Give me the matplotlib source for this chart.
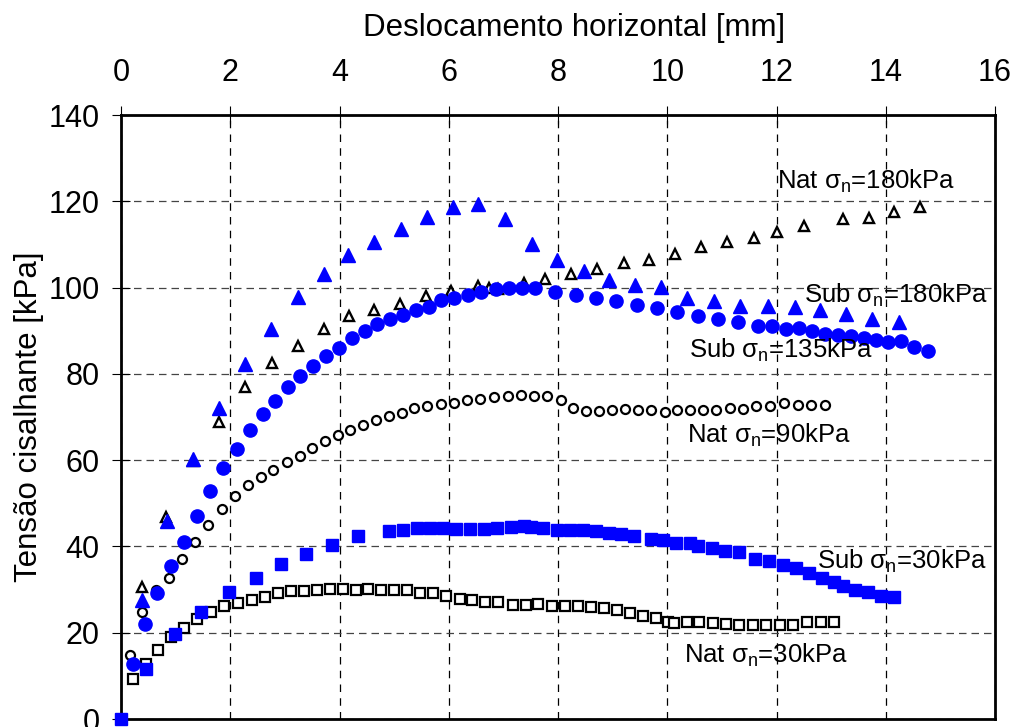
import matplotlib
matplotlib.use("Agg")
import matplotlib.pyplot as plt

plt.rcParams['font.family'] = ['Liberation Sans', 'DejaVu Sans']
plt.rcParams['mathtext.fontset'] = 'custom'
plt.rcParams['mathtext.rm'] = 'Liberation Sans'
plt.rcParams['mathtext.it'] = 'Liberation Sans'

# === DADOS ===
# Natural, sigma_n = 30 kPa (quadrados abertos)
nat30_x = [0.21, 0.45, 0.68, 0.91, 1.15, 1.39, 1.65, 1.89, 2.15, 2.39, 2.64, 2.88, 3.11, 3.35,
           3.58, 3.82, 4.06, 4.30, 4.53, 4.76, 5.00, 5.23, 5.48, 5.71, 5.95, 6.20, 6.42, 6.67,
           6.91, 7.17, 7.41, 7.64, 7.89, 8.12, 8.36, 8.60, 8.85, 9.08, 9.31, 9.55, 9.79, 10.01,
           10.13, 10.36, 10.59, 10.84, 11.08, 11.32, 11.57, 11.81, 12.07, 12.31, 12.56, 12.82, 13.06]
nat30_y = [9.2, 12.8, 16.1, 19.1, 21.2, 23.2, 24.9, 26.2, 27.0, 27.7, 28.3, 29.1, 29.7, 29.7,
           30.0, 30.2, 30.1, 30.0, 30.1, 30.0, 29.9, 29.9, 29.3, 29.3, 28.6, 27.8, 27.6, 27.2,
           27.2, 26.4, 26.4, 26.6, 26.2, 26.2, 26.2, 26.0, 25.8, 25.3, 24.5, 23.9, 23.3, 22.6,
           22.3, 22.6, 22.6, 22.3, 22.0, 21.9, 21.9, 21.8, 21.8, 21.9, 22.6, 22.6, 22.6]

# Natural, sigma_n = 90 kPa (círculos abertos)
nat90_x = [0.16, 0.39, 0.64, 0.87, 1.11, 1.36, 1.60, 1.84, 2.09, 2.32, 2.56, 2.79, 3.03, 3.27,
           3.50, 3.74, 3.97, 4.19, 4.43, 4.66, 4.91, 5.14, 5.37, 5.61, 5.86, 6.10, 6.34, 6.58,
           6.83, 7.08, 7.32, 7.56, 7.80, 8.05, 8.27, 8.52, 8.75, 8.99, 9.23, 9.46, 9.70, 9.95,
           10.18, 10.42, 10.66, 10.90, 11.14, 11.38, 11.63, 11.89, 12.14, 12.39, 12.63, 12.88]
nat90_y = [14.8, 24.9, 30.0, 32.8, 37.1, 41.1, 45.0, 48.7, 51.8, 54.2, 56.0, 57.7, 59.5, 61.0,
           62.9, 64.5, 65.8, 67.0, 68.2, 69.3, 70.3, 71.0, 72.0, 72.6, 73.0, 73.3, 73.9, 74.2,
           74.7, 74.9, 75.2, 74.9, 74.9, 73.9, 72.0, 71.4, 71.4, 71.6, 71.8, 71.6, 71.6, 71.2,
           71.6, 71.6, 71.6, 71.6, 72.0, 71.8, 72.6, 72.6, 73.2, 72.9, 72.9, 72.9]

# Natural, sigma_n = 180 kPa (triângulos abertos)
nat180_x = [0.38, 0.83, 1.31, 1.79, 2.27, 2.76, 3.24, 3.71, 4.18, 4.64, 5.11, 5.59, 6.04, 6.53,
            6.73, 6.90, 7.38, 7.77, 8.24, 8.72, 9.20, 9.67, 10.15, 10.62, 11.10, 11.58, 12.01,
            12.51, 13.22, 13.69, 14.16, 14.62]
nat180_y = [30.5, 46.9, 59.8, 68.9, 76.9, 82.5, 86.5, 90.4, 93.4, 94.8, 96.2, 98.1, 99.2, 100.4,
            100.0, 99.6, 101.1, 102.1, 103.2, 104.3, 105.6, 106.4, 107.9, 109.5, 110.6, 111.6,
            112.9, 114.3, 115.8, 116.2, 117.6, 118.6]

# Submerso, sigma_n = 30 kPa (quadrados cheios)
sub30_x = [0.0, 0.45, 0.98, 1.47, 1.98, 2.47, 2.93, 3.39, 3.87, 4.33, 4.91, 5.17, 5.42, 5.66,
           5.90, 6.14, 6.39, 6.64, 6.88, 7.14, 7.38, 7.50, 7.73, 7.98, 8.22, 8.46, 8.70, 8.94,
           9.16, 9.40, 9.70, 9.93, 10.16, 10.41, 10.57, 10.82, 11.05, 11.31, 11.61, 11.86, 12.11,
           12.36, 12.59, 12.83, 13.06, 13.21, 13.44, 13.68, 13.92, 14.15]
sub30_y = [0.0, 11.7, 19.6, 24.9, 29.5, 32.8, 35.9, 38.3, 40.3, 42.4, 43.6, 43.8, 44.3, 44.2,
           44.2, 44.0, 44.0, 44.0, 44.2, 44.4, 44.7, 44.4, 44.2, 43.9, 43.8, 43.8, 43.6, 43.2,
           42.9, 42.4, 41.7, 41.5, 40.9, 40.7, 40.2, 39.7, 39.0, 38.6, 37.1, 36.7, 35.7,
           35.1, 33.9, 32.8, 31.8, 30.8, 29.9, 29.4, 28.6, 28.3]

# Submerso, sigma_n = 135 kPa (círculos cheios)
sub135_x = [0.21, 0.43, 0.66, 0.91, 1.15, 1.39, 1.63, 1.87, 2.12, 2.36, 2.60, 2.82, 3.06, 3.28,
            3.51, 3.75, 3.99, 4.22, 4.46, 4.69, 4.93, 5.16, 5.40, 5.63, 5.86, 6.10, 6.35, 6.59,
            6.87, 7.10, 7.34, 7.58, 7.95, 8.33, 8.70, 9.07, 9.44, 9.81, 10.18, 10.56, 10.93,
            11.29, 11.67, 11.92, 12.17, 12.42, 12.65, 12.88, 13.12, 13.36, 13.60, 13.83, 14.05,
            14.28, 14.52, 14.77]
sub135_y = [12.7, 22.1, 29.1, 35.5, 41.1, 47.1, 52.9, 58.3, 62.7, 67.0, 70.6, 73.8, 77.0, 79.5,
            81.9, 84.1, 86.1, 88.3, 90.0, 91.6, 92.8, 93.6, 94.8, 95.6, 97.1, 97.7, 98.4, 99.0,
            99.7, 99.8, 99.8, 99.8, 99.0, 98.3, 97.5, 96.9, 96.0, 95.2, 94.4, 93.5, 92.7,
            92.1, 91.2, 91.1, 90.5, 90.7, 90.0, 89.2, 89.1, 88.8, 88.4, 87.8, 87.4,
            87.6, 86.3, 85.3]

# Submerso, sigma_n = 180 kPa (triângulos cheios)
sub180_x = [0.38, 0.84, 1.31, 1.79, 2.27, 2.75, 3.24, 3.71, 4.16, 4.63, 5.12, 5.60, 6.07, 6.54,
            7.03, 7.52, 7.99, 8.47, 8.94, 9.41, 9.88, 10.36, 10.85, 11.34, 11.84, 12.33, 12.80,
            13.27, 13.75, 14.24]
sub180_y = [27.6, 46.0, 60.3, 72.0, 82.2, 90.5, 97.9, 103.2, 107.6, 110.6, 113.6, 116.4, 118.6,
            119.4, 115.9, 110.1, 106.4, 103.8, 101.8, 100.6, 100.2, 97.7, 96.9, 95.8, 95.7, 95.6,
            94.8, 93.8, 92.8, 92.1]

rotulos = [r"Nat $\sigma_{\mathregular{n}}$=180kPa", r"Sub $\sigma_{\mathregular{n}}$=180kPa",
           r"Sub $\sigma_{\mathregular{n}}$=135kPa", r"Nat $\sigma_{\mathregular{n}}$=90kPa",
           r"Sub $\sigma_{\mathregular{n}}$=30kPa", r"Nat $\sigma_{\mathregular{n}}$=30kPa"]
rotulos_x = [13.65, 14.18, 12.09, 11.87, 14.30, 11.80]
rotulos_y = [124.7, 98.3, 85.5, 65.8, 36.5, 14.8]

azul = '#0000ff'

fig = plt.figure(figsize=(10.18, 7.27), dpi=100)
ax = fig.add_axes([0.1189, 0.011, 0.8585, 0.8307])

ax.plot(nat30_x, nat30_y, 's', ms=6.5, mfc='white', mec='black', mew=1.6, ls='none', zorder=3)
ax.plot(nat90_x, nat90_y, 'o', ms=6.5, mfc='white', mec='black', mew=1.6, ls='none', zorder=3)
ax.plot(nat180_x, nat180_y, '^', ms=7.5, mfc='white', mec='black', mew=1.7, ls='none', zorder=3)
ax.plot(sub30_x, sub30_y, 's', ms=8, color=azul, ls='none', zorder=4, clip_on=False)
ax.plot(sub135_x, sub135_y, 'o', ms=9.5, color=azul, ls='none', zorder=4)
ax.plot(sub180_x, sub180_y, '^', ms=9.5, color=azul, ls='none', zorder=4)

for txt, tx, ty in zip(rotulos, rotulos_x, rotulos_y):
    ax.text(tx, ty, txt, fontsize=18.5, ha='center', va='center', zorder=5)

ax.set_xlim(0, 16)
ax.set_ylim(0, 140)
ax.set_xticks(range(0, 17, 2))
ax.set_yticks(range(0, 141, 20))

ax.xaxis.tick_top()
ax.xaxis.set_label_position('top')
ax.tick_params(axis='x', direction='inout', length=13, width=0.8, labelsize=22, pad=13)
ax.tick_params(axis='y', direction='inout', length=13, width=0.8, labelsize=22, pad=9)
ax.set_xlabel("Deslocamento horizontal [mm]", fontsize=22.5, labelpad=16)
ax.xaxis.label.set_x(0.518)
ax.set_ylabel("Tensão cisalhante [kPa]", fontsize=22.5, labelpad=3)

ax.grid(True, axis='x', color='black', linestyle=(0, (6, 5)), linewidth=0.9)
ax.grid(True, axis='y', color='#444444', linestyle=(0, (6, 4)), linewidth=0.9)
ax.set_axisbelow(True)

for s in ax.spines.values():
    s.set_linewidth(2)

fig.savefig("out.png", dpi=100)
